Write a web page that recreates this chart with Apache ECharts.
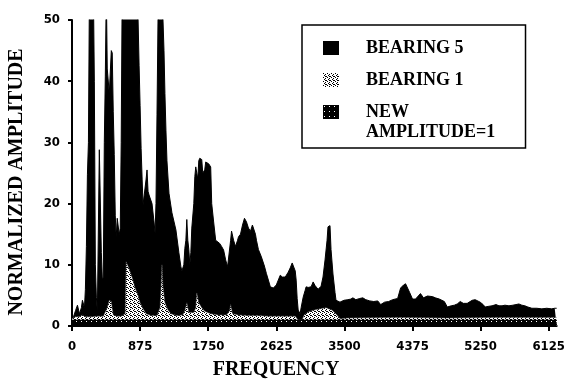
<!DOCTYPE html>
<html>
<head>
<meta charset="utf-8">
<script src="https://cdn.jsdelivr.net/npm/echarts@6/dist/echarts.min.js"></script>
<style>
  html, body { margin: 0; padding: 0; background: #fff; }
  #chart { width: 568px; height: 385px; }
</style>
</head>
<body>
<div id="chart"></div>
<script>
// frequency ticks and series names
const xTicks = [0, 875, 1750, 2625, 3500, 4375, 5250, 6125];
const seriesNames = ['BEARING 5', 'BEARING 1', 'NEW AMPLITUDE=1'];

// BEARING 5 spectrum, [frequency, normalized amplitude] (peaks above 50 are clipped)
const bearing5 = [
  [0, 1.0], [19, 1.5], [45, 2.5], [70, 3.4], [96, 2.0], [121, 3.0], [134, 4.2], [160, 3.0],
  [172, 6], [185, 13], [198, 24.7], [211, 30], [224, 55], [275, 55], [287, 40], [300, 10],
  [313, 4.7], [326, 2.2], [339, 2.5], [351, 28.8], [364, 29], [377, 12], [390, 7.5], [402, 8],
  [415, 30], [428, 40.7], [441, 55], [453, 42], [479, 38], [505, 45], [517, 44.6], [530, 35],
  [543, 28], [556, 18], [568, 14.5], [581, 17.6], [594, 17.6], [607, 14.9], [620, 16], [632, 30],
  [645, 55], [837, 55], [849, 50], [862, 42.6], [875, 36], [888, 29], [901, 24], [913, 19.8],
  [926, 20], [952, 24], [964, 25.5], [977, 22], [990, 21.4], [1028, 20], [1054, 17], [1067, 15.2],
  [1079, 20], [1092, 34.5], [1105, 50], [1118, 55], [1156, 55], [1169, 50], [1182, 45], [1194, 38],
  [1207, 32], [1220, 27], [1246, 21.7], [1284, 18.5], [1335, 15.7], [1373, 12], [1399, 9.7], [1412, 9],
  [1437, 10], [1450, 12.7], [1463, 14], [1475, 17.4], [1488, 14], [1501, 12.5], [1514, 10], [1527, 12],
  [1539, 16], [1565, 20], [1578, 24.4], [1590, 26], [1616, 24], [1629, 27], [1641, 27.4], [1667, 27.2],
  [1680, 25], [1705, 25.5], [1718, 26.8], [1756, 26.5], [1782, 26], [1795, 20], [1820, 17], [1846, 14],
  [1871, 14], [1897, 13.5], [1922, 13], [1948, 12.4], [1974, 10.8], [1999, 9.7], [2012, 9.5], [2038, 14],
  [2050, 15.5], [2076, 14], [2101, 13], [2127, 14], [2140, 14.6], [2165, 15], [2191, 16.5], [2216, 17.6],
  [2242, 17], [2267, 16], [2293, 15.5], [2318, 16.5], [2331, 16.3], [2357, 15], [2370, 14], [2395, 12.5],
  [2433, 11.3], [2472, 9.8], [2497, 8.6], [2523, 7.5], [2548, 6.4], [2587, 6.2], [2599, 6.0], [2625, 6.7],
  [2650, 7], [2676, 8.3], [2702, 8], [2714, 7.7], [2740, 8], [2778, 8.8], [2804, 9.5], [2829, 10.3],
  [2842, 10.5], [2868, 9], [2880, 7.5], [2893, 4.5], [2906, 2.6], [2931, 2.0], [2944, 3], [2970, 4.7],
  [2995, 5.8], [3008, 6.4], [3034, 6.3], [3072, 6.4], [3098, 7.2], [3123, 6.6], [3136, 6.4], [3162, 6],
  [3200, 6.5], [3225, 8], [3251, 10.8], [3277, 14], [3289, 16.2], [3315, 16.4], [3328, 12.5], [3353, 8.5],
  [3379, 5.5], [3392, 4.2], [3443, 3.9], [3494, 4.2], [3545, 4.3], [3583, 4.4], [3609, 4.6], [3647, 4.3],
  [3698, 4.5], [3736, 4.6], [3775, 4.3], [3826, 4.1], [3877, 4.0], [3928, 4.1], [3966, 3.5], [4017, 3.9],
  [4068, 4.0], [4120, 4.3], [4184, 4.5], [4222, 6.2], [4260, 6.7], [4286, 6.9], [4311, 6.8], [4337, 5.5],
  [4375, 4.4], [4414, 4.4], [4439, 4.3], [4477, 5.3], [4516, 4.6], [4541, 4.4], [4567, 4.9], [4592, 5.1],
  [4631, 4.8], [4669, 4.6], [4720, 4.4], [4784, 4.0], [4822, 3.1], [4873, 3.3], [4912, 3.4], [4950, 3.6],
  [4988, 4.0], [5027, 3.7], [5078, 3.7], [5103, 3.6], [5142, 4.2], [5180, 4.3], [5205, 4.5], [5244, 3.9],
  [5282, 3.5], [5308, 3.1], [5346, 3.2], [5397, 3.3], [5448, 3.5], [5486, 3.3], [5525, 3.3], [5563, 3.4],
  [5614, 3.3], [5665, 3.4], [5704, 3.5], [5742, 3.6], [5780, 3.4], [5818, 3.3], [5857, 3.1], [5908, 2.9],
  [5972, 2.9], [6036, 2.8], [6100, 2.9], [6163, 2.8], [6202, 2.9], [6227, 2.9]
];

// BEARING 1 spectrum
const bearing1 = [
  [0, 1.2], [45, 1.5], [96, 1.5], [134, 1.8], [172, 1.5], [249, 1.5], [326, 1.6], [402, 1.6],
  [453, 3.0], [479, 4.2], [505, 4.0], [530, 1.8], [581, 1.6], [632, 1.6], [683, 2.0], [696, 10.5],
  [709, 10.5], [735, 9.3], [773, 7.9], [811, 6.2], [849, 5.0], [875, 3.8], [913, 2.8], [952, 2.0],
  [1016, 1.7], [1092, 1.7], [1131, 3.0], [1143, 6.0], [1156, 10.0], [1169, 6.5], [1194, 3.8], [1233, 2.6],
  [1271, 2.0], [1348, 1.7], [1424, 1.8], [1450, 2.5], [1475, 3.8], [1501, 2.2], [1565, 2.2], [1590, 3.0],
  [1603, 5.4], [1629, 3.8], [1667, 3.0], [1705, 2.4], [1782, 2.0], [1884, 1.8], [1986, 1.8], [2025, 2.5],
  [2038, 3.5], [2063, 2.0], [2140, 1.8], [2267, 1.7], [2395, 1.7], [2523, 1.6], [2650, 1.6], [2778, 1.6],
  [2868, 1.6], [2906, 1.0], [2957, 1.0], [2982, 1.8], [3034, 2.3], [3110, 2.6], [3187, 2.8], [3264, 3.0],
  [3289, 3.3], [3340, 2.6], [3404, 1.8], [3443, 1.2], [3545, 1.3], [4184, 1.4], [4822, 1.3], [5461, 1.4],
  [6227, 1.4]
];

// reference level
const newAmplitude = [[0, 1], [6227, 1]];

function makePattern(size, bg, fg, dots) {
  const c = document.createElement('canvas');
  c.width = size; c.height = size;
  const ctx = c.getContext('2d');
  ctx.fillStyle = bg;
  ctx.fillRect(0, 0, size, size);
  ctx.fillStyle = fg;
  dots.forEach(d => ctx.fillRect(d[0], d[1], 1, 1));
  return { image: c, repeat: 'repeat' };
}

const dotted = makePattern(4, '#fff', '#000', [[0, 0], [2, 1], [1, 2], [3, 3], [2, 3]]);
const speckled = makePattern(5, '#000', '#fff', [[1, 1]]);

const chart = echarts.init(document.getElementById('chart'), null, { renderer: 'canvas' });

const labelFont = '"Liberation Sans Narrow", "DejaVu Sans Condensed", "Liberation Sans", sans-serif';
const titleFont = '"Liberation Serif", "DejaVu Serif", serif';

// the third legend entry wraps: first word next to its swatch, the rest on the line below
const wrapParts = seriesNames[2].split(' ');

chart.setOption({
  animation: false,
  backgroundColor: '#fff',
  grid: { left: 72, right: 8, top: 20, bottom: 59 },
  legend: {
    data: seriesNames,
    formatter: name => (name === seriesNames[2] ? wrapParts[0] : name),
    orient: 'vertical',
    left: 302,
    top: 25,
    padding: [13, 62, 26, 21],
    itemWidth: 16,
    itemHeight: 14,
    itemGap: 12,
    icon: 'rect',
    borderColor: '#000',
    borderWidth: 1.5,
    backgroundColor: '#fff',
    selectedMode: false,
    textStyle: {
      fontFamily: titleFont,
      fontWeight: 'bold',
      fontSize: 18,
      lineHeight: 20,
      color: '#000',
      padding: [0, 0, 0, 22]
    }
  },
  xAxis: {
    type: 'value',
    min: 0,
    max: 6227,
    splitLine: { show: false },
    axisLine: { onZero: false, lineStyle: { color: '#000', width: 2 } },
    axisTick: { show: true, length: 5, lineStyle: { color: '#000', width: 2 }, customValues: xTicks },
    axisLabel: {
      customValues: xTicks,
      formatter: v => String(v),
      margin: 14,
      color: '#000',
      fontFamily: labelFont,
      fontWeight: 'bold',
      fontSize: 13
    }
  },
  yAxis: {
    type: 'value',
    min: 0,
    max: 50,
    interval: 10,
    splitLine: { show: false },
    axisLine: { show: true, lineStyle: { color: '#000', width: 2 } },
    axisTick: { show: true, length: 4, lineStyle: { color: '#000', width: 2 } },
    axisLabel: {
      margin: 12,
      color: '#000',
      fontFamily: labelFont,
      fontWeight: 'bold',
      fontSize: 13
    }
  },
  graphic: [
    {
      type: 'text',
      x: 17,
      y: 182,
      rotation: Math.PI / 2,
      silent: true,
      style: {
        text: 'NORMALIZED AMPLITUDE',
        fontFamily: titleFont,
        fontWeight: 'bold',
        fontSize: 20,
        fill: '#000',
        align: 'center',
        verticalAlign: 'middle'
      }
    },
    {
      type: 'text',
      x: 276,
      y: 370,
      silent: true,
      style: {
        text: 'FREQUENCY',
        fontFamily: titleFont,
        fontWeight: 'bold',
        fontSize: 20,
        fill: '#000',
        align: 'center',
        verticalAlign: 'middle'
      }
    },
    {
      type: 'text',
      x: 366,
      y: 132,
      z: 100,
      silent: true,
      style: {
        text: wrapParts.slice(1).join(' '),
        fontFamily: titleFont,
        fontWeight: 'bold',
        fontSize: 18,
        fill: '#000',
        align: 'left',
        verticalAlign: 'middle'
      }
    }
  ],
  series: [
    {
      name: seriesNames[0],
      type: 'line',
      data: bearing5,
      symbol: 'none',
      z: 2,
      itemStyle: { color: '#000' },
      lineStyle: { color: '#000', width: 1 },
      areaStyle: { color: '#000', opacity: 1 }
    },
    {
      name: seriesNames[1],
      type: 'line',
      data: bearing1,
      symbol: 'none',
      z: 3,
      itemStyle: { color: dotted },
      lineStyle: { color: '#555', width: 0.5 },
      areaStyle: { color: dotted, opacity: 1 }
    },
    {
      name: seriesNames[2],
      type: 'line',
      data: newAmplitude,
      symbol: 'none',
      z: 4,
      itemStyle: { color: speckled },
      lineStyle: { color: '#000', width: 0.5 },
      areaStyle: { color: speckled, opacity: 1 }
    }
  ]
});
</script>
</body>
</html>
